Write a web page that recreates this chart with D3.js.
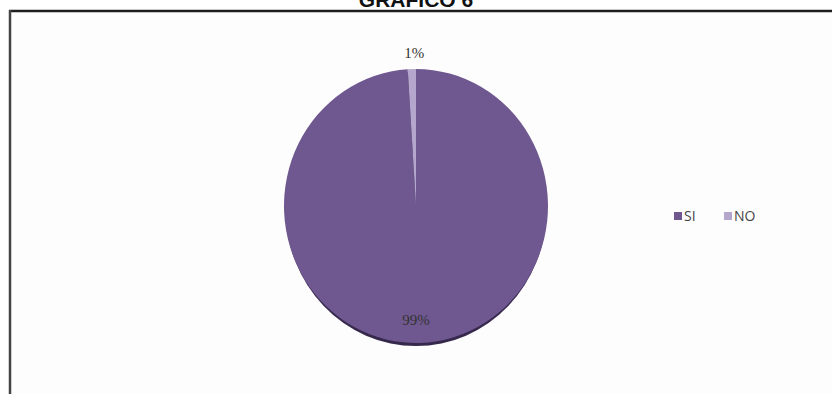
<!DOCTYPE html>
<html lang="es">
<head>
<meta charset="utf-8">
<title>GRAFICO 6</title>
<style>
    body { margin: 0; background: #fff; }
    svg { display: block; }
    .title { font-family: "Liberation Sans", Arial, sans-serif; font-weight: bold; font-size: 21px; fill: #111; }
    .pct { font-family: "Liberation Serif", "DejaVu Serif", serif; font-size: 15px; fill: #333; }
    .legend text { font-family: "Open Sans", "DejaVu Sans", sans-serif; font-size: 14px; fill: #444; }
</style>
</head>
<body>
<div id="chart"></div>
<script src="https://d3js.org/d3.v7.min.js"></script>
<script>
    // data
    var categories = ["SI", "NO"];
    var values = [99, 1];
    var labels = ["99%", "1%"];
    var colors = ["#6f5890", "#b4a6cc"];

    var W = 832, H = 394;
    var cx = 416, cy = 206, r = 132, squash = 137 / 132;

    var svg = d3.select("#chart").append("svg")
        .attr("width", W).attr("height", H);

    // frame
    svg.append("rect").attr("x", 10).attr("y", 11).attr("width", W - 10).attr("height", H - 11)
        .attr("fill", "#fdfdfd");
    svg.append("line").attr("x1", 9).attr("x2", W).attr("y1", 11).attr("y2", 11)
        .attr("stroke", "#1e1e1e").attr("stroke-width", 2.5);
    svg.append("line").attr("x1", 10).attr("x2", 10).attr("y1", 10).attr("y2", H)
        .attr("stroke", "#444").attr("stroke-width", 2.5);

    svg.append("text").attr("class", "title")
        .attr("x", cx).attr("y", 7).attr("text-anchor", "middle")
        .text("GRAFICO 6");

    var pie = d3.pie().sort(null).value(function(d) { return d; });
    var arcs = pie(values);
    var arc = d3.arc().innerRadius(0).outerRadius(r);

    var g = svg.append("g")
        .attr("transform", "translate(" + cx + "," + cy + ") scale(1," + squash + ")");

    // bottom shadow
    g.append("ellipse").attr("cx", 0).attr("cy", 3).attr("rx", r - 1.5).attr("ry", r)
        .attr("fill", "#35284c");

    g.selectAll("path.slice")
        .data(arcs)
        .enter().append("path")
        .attr("class", "slice")
        .attr("d", arc)
        .attr("fill", function(d, i) { return colors[i]; });

    // percentage labels
    var lblPos = [
        { a: arcs[0], rad: r * 0.83 },
        { a: arcs[1], rad: r * 1.12 }
    ];
    svg.selectAll("text.pct")
        .data(lblPos)
        .enter().append("text")
        .attr("class", "pct")
        .attr("text-anchor", "middle")
        .attr("x", function(d, i) {
            var m = i === 0 ? Math.PI : (d.a.startAngle + d.a.endAngle) / 2;
            return cx + Math.sin(m) * d.rad + (i === 1 ? 3 : 0);
        })
        .attr("y", function(d, i) {
            var m = i === 0 ? Math.PI : (d.a.startAngle + d.a.endAngle) / 2;
            return cy - Math.cos(m) * d.rad * squash + 5;
        })
        .text(function(d, i) { return labels[i]; });

    // legend
    var legend = svg.append("g").attr("class", "legend")
        .attr("transform", "translate(674,216)");
    var item = legend.selectAll("g")
        .data(categories)
        .enter().append("g")
        .attr("transform", function(d, i) { return "translate(" + (i * 50) + ",0)"; });
    item.append("rect").attr("x", 0).attr("y", -4).attr("width", 8).attr("height", 8)
        .attr("fill", function(d, i) { return colors[i]; });
    item.append("text").attr("x", 10).attr("y", 5).text(function(d) { return d; });
</script>
</body>
</html>
